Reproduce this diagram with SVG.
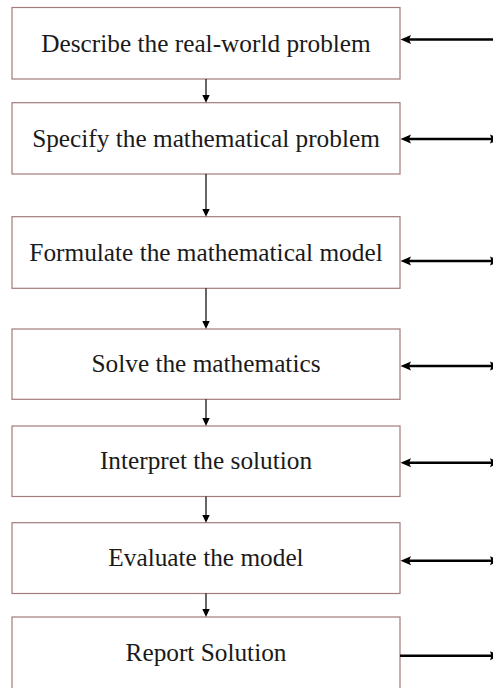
<svg xmlns="http://www.w3.org/2000/svg" width="493" height="688" viewBox="0 0 493 688">
<style>
.box{fill:#ffffff;stroke:#a27b7b;stroke-width:1.2}
.lbl{font-family:"Liberation Serif","Times New Roman",serif;font-size:25.3px;fill:#1a1a1a;text-anchor:middle}
.down{stroke:#000;stroke-width:1.2;fill:none}
.side{stroke:#000;stroke-width:2.6;fill:none}
.head{fill:#000}
</style>
<rect width="493" height="688" fill="#ffffff"/>
<g id="n1"><rect class="box" x="12" y="7.5" width="388" height="71.5"/><text class="lbl" x="206" y="52">Describe the real-world problem</text></g>
<g id="n2"><rect class="box" x="12" y="102.7" width="388" height="71.3"/><text class="lbl" x="206" y="147">Specify the mathematical problem</text></g>
<g id="n3"><rect class="box" x="12" y="216.7" width="388" height="71.6"/><text class="lbl" x="206" y="261">Formulate the mathematical model</text></g>
<g id="n4"><rect class="box" x="12" y="329" width="388" height="70.3"/><text class="lbl" x="206" y="372">Solve the mathematics</text></g>
<g id="n5"><rect class="box" x="12" y="426" width="388" height="70.5"/><text class="lbl" x="206" y="469">Interpret the solution</text></g>
<g id="n6"><rect class="box" x="12" y="522.7" width="388" height="70.8"/><text class="lbl" x="206" y="566">Evaluate the model</text></g>
<g id="n7"><rect class="box" x="12" y="617" width="388" height="80"/><text class="lbl" x="206" y="661">Report Solution</text></g>
<g id="connectors">
<path class="down" d="M206 79V96"/><path class="head" d="M202.3 95L209.7 95L206 102.7Z"/>
<path class="down" d="M206 174V210"/><path class="head" d="M202.3 209L209.7 209L206 216.7Z"/>
<path class="down" d="M206 288.3V321"/><path class="head" d="M202.3 321L209.7 321L206 329Z"/>
<path class="down" d="M206 399.3V418"/><path class="head" d="M202.3 418L209.7 418L206 426Z"/>
<path class="down" d="M206 496.5V515"/><path class="head" d="M202.3 515L209.7 515L206 522.7Z"/>
<path class="down" d="M206 593.5V609"/><path class="head" d="M202.3 609L209.7 609L206 617Z"/>

<path class="side" d="M408 39.5H493"/><path class="head" d="M400.5 39.5L411 35L409 39.5L411 44Z"/>
<g><path class="side" d="M408 139H493"/><path class="head" d="M400.5 139L411 134.5L409 139L411 143.5Z"/><path class="head" d="M500 139L490 134.5L491.5 139L490 143.5Z"/></g>
<g><path class="side" d="M408 261H493"/><path class="head" d="M400.5 261L411 256.5L409 261L411 265.5Z"/><path class="head" d="M500 261L490 256.5L491.5 261L490 265.5Z"/></g>
<g><path class="side" d="M408 366H493"/><path class="head" d="M400.5 366L411 361.5L409 366L411 370.5Z"/><path class="head" d="M500 366L490 361.5L491.5 366L490 370.5Z"/></g>
<g><path class="side" d="M408 462.7H493"/><path class="head" d="M400.5 462.7L411 458.2L409 462.7L411 467.2Z"/><path class="head" d="M500 462.7L490 458.2L491.5 462.7L490 467.2Z"/></g>
<g><path class="side" d="M408 560.7H493"/><path class="head" d="M400.5 560.7L411 556.2L409 560.7L411 565.2Z"/><path class="head" d="M500 560.7L490 556.2L491.5 560.7L490 565.2Z"/></g>
<g><path class="side" d="M400 655.7H493"/><path class="head" d="M500 655.7L490 651.2L491.5 655.7L490 660.2Z"/></g>
</g>
</svg>
